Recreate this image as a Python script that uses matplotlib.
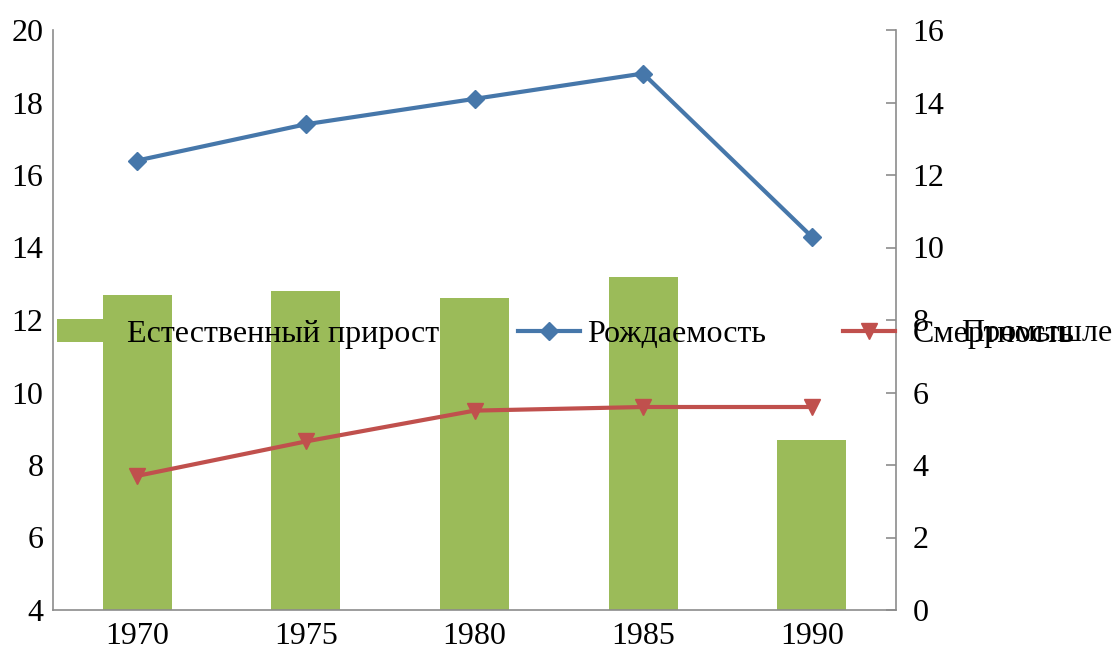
import matplotlib.pyplot as plt
import numpy as np
from matplotlib.patches import Patch
from matplotlib.lines import Line2D

plt.rcParams['font.family'] = ['Liberation Serif', 'DejaVu Serif']

years = ['1970', '1975', '1980', '1985', '1990']
births = [16.4, 17.4, 18.1, 18.8, 14.3]      # Рождаемость (left axis)
deaths = [7.7, 8.65, 9.5, 9.6, 9.6]          # Смертность (left axis)
natural = [8.7, 8.8, 8.6, 9.2, 4.7]          # Естественный прирост (right axis)

green = '#9BBB59'
blue = '#4677AA'
red = '#C0504D'
grey = '#8C8C8C'
fs = 23

fig = plt.figure(figsize=(11.17, 6.5), dpi=100)
ax = fig.add_axes([53/1117, 40/650, 843/1117, 580/650])
ax2 = ax.twinx()

x = np.arange(len(years))
ax2.bar(x, natural, width=0.41, color=green, zorder=1)
ax2.set_ylim(0, 16)
ax2.set_yticks(range(0, 17, 2))

# lines on top of bars
ax.set_zorder(ax2.get_zorder() + 1)
ax.patch.set_visible(False)
ax.plot(x, births, color=blue, lw=3, marker='D', ms=9, zorder=3)
ax.plot(x, deaths, color=red, lw=3, marker='v', ms=11, zorder=3)
ax.set_ylim(4, 20)
ax.set_yticks(range(4, 21, 2))
ax.set_xlim(-0.5, len(years) - 0.5)
ax.set_xticks(x)
ax.set_xticklabels(years)

for a in (ax, ax2):
    for s in a.spines.values():
        s.set_color(grey)
        s.set_linewidth(1.2)
    a.spines['top'].set_visible(False)
ax.spines['right'].set_visible(False)
ax2.spines['left'].set_visible(False)
ax2.spines['bottom'].set_visible(False)

ax.tick_params(axis='y', length=0, pad=7, labelsize=fs)
ax.tick_params(axis='x', length=0, pad=9, labelsize=fs)
ax2.tick_params(axis='y', direction='in', length=7, width=1.2, color=grey, pad=12, labelsize=fs)

# legend entries, drawn over the plot like in the source
entries = [
    (Patch(facecolor=green), 'Естественный прирост', 57, 1.44, 0.75),
    (Line2D([], [], color=blue, lw=3, marker='D', ms=9), 'Рождаемость', 518, 1.94, 0.22),
    (Line2D([], [], color=red, lw=3, marker='v', ms=11), 'Смертность', 843, 1.63, 0.56),
]
for handle, label, px, hl, tp in entries:
    leg = fig.legend([handle], [label], loc='center left',
                     bbox_to_anchor=(px/1117, 1 - 334/650), frameon=False,
                     fontsize=fs, handlelength=hl, handleheight=0.75,
                     handletextpad=tp, borderpad=0, borderaxespad=0)
    leg.set_zorder(10)
# a fourth, clipped legend label that overlaps the third one in the source
fig.text(1112/1117, 1 - 334/650, 'Промышле', fontsize=fs, va='center', ha='right', zorder=11)

fig.savefig('out.png', dpi=100)
